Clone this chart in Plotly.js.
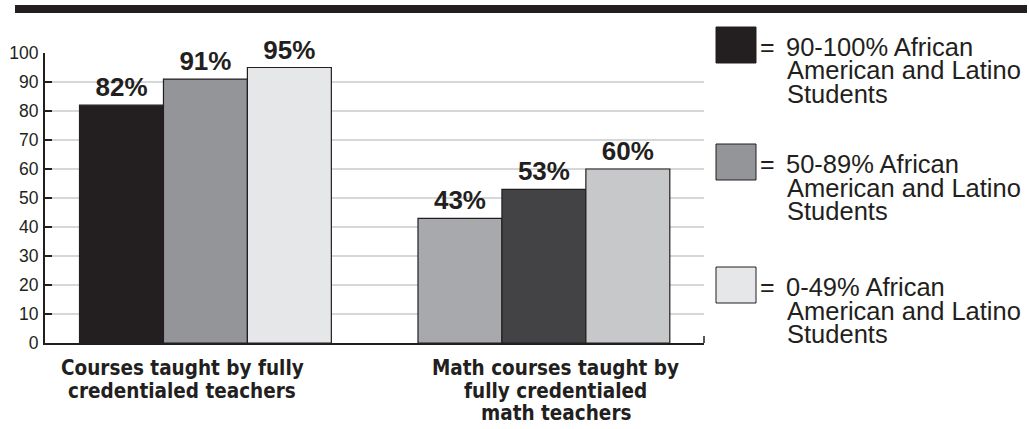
<!DOCTYPE html>
<html><head><meta charset="utf-8">
<script src="https://cdn.plot.ly/plotly-3.0.1.min.js"></script>
<style>html,body{margin:0;padding:0;background:#fff;}#chart{width:1029px;height:429px;}</style>
</head><body><div id="chart"></div>
<script>
// ---- data ----
const categoryLines = [
  ["Courses taught by fully", "credentialed teachers"],
  ["Math courses taught by", "fully credentialed", "math teachers"]
];
const categories = categoryLines.map(l => l.join(" "));
const seriesNames = [
  "90-100% African American and Latino Students",
  "50-89% African American and Latino Students",
  "0-49% African American and Latino Students"
];
const legendLines = [
  ["90-100% African", "American and Latino", "Students"],
  ["50-89% African", "American and Latino", "Students"],
  ["0-49% African", "American and Latino", "Students"]
];
const values90to100 = [82, 43];
const values50to89 = [91, 53];
const values0to49 = [95, 60];
const barColors = [
  ["#231f20", "#a7a9ac"],
  ["#939598", "#434345"],
  ["#e6e7e8", "#c7c8ca"]
];
const legendColors = ["#231f20", "#939598", "#e6e7e8"];
const yTickValues = [0, 10, 20, 30, 40, 50, 60, 70, 80, 90, 100];

// ---- layout helpers ----
const W = 1029, H = 429;
const L = 45, R = 704, T = 53, B = 343;
const px = x => (x - L) / (R - L);
const py = y => (B - y) / (B - T);
const ink = "#231f20";
const regFont = "Liberation Sans, Arial, Helvetica, sans-serif";
const narrowFont = "DejaVu Sans Condensed, Liberation Sans Narrow, Arial Narrow, sans-serif";

const seriesValues = [values90to100, values50to89, values0to49];
const traces = seriesValues.map((vals, i) => ({
  type: "bar",
  name: seriesNames[i],
  x: categories,
  y: vals,
  marker: { color: barColors[i], line: { color: ink, width: 1.2 } },
  texttemplate: "%{y}%",
  textposition: "outside",
  constraintext: "none",
  cliponaxis: false,
  textfont: { family: regFont, size: 26, weight: "bold", color: ink },
  hoverinfo: "skip"
}));

const shapes = [];
const annotations = [];

// top band
shapes.push({ type: "rect", xref: "paper", yref: "paper", x0: px(15), x1: px(1027), y0: py(13), y1: py(5), fillcolor: ink, line: { width: 0 } });
// right end tick of x axis
shapes.push({ type: "line", xref: "paper", yref: "paper", x0: 1, x1: 1, y0: 0, y1: py(336), line: { color: ink, width: 1.5 } });

// category labels
const groupShift = [-23, 12];
categoryLines.forEach((lines, i) => {
  lines.forEach((t, j) => {
    annotations.push({
      xref: "x", yref: "paper", x: categories[i], xshift: groupShift[i],
      y: py(368 + 22.5 * j), yanchor: "middle", xanchor: "center",
      text: t, showarrow: false,
      font: { family: narrowFont, size: 20.5, weight: "bold", color: ink }
    });
  });
});

// legend
const squareTops = [27, 144, 267];
legendColors.forEach((c, i) => {
  const top = squareTops[i];
  shapes.push({ type: "rect", xref: "paper", yref: "paper", x0: px(716), x1: px(756), y0: py(top + 36), y1: py(top), fillcolor: c, line: { color: ink, width: 1 } });
  const c0 = top + 20;
  annotations.push({ xref: "paper", yref: "paper", x: px(758), y: py(c0), xanchor: "left", yanchor: "middle", text: "=", showarrow: false, font: { family: regFont, size: 25, color: ink } });
  legendLines[i].forEach((t, j) => {
    annotations.push({
      xref: "paper", yref: "paper", x: px(784 + (j > 0 ? 1 : 0)), y: py(c0 + 23.5 * j),
      xanchor: "left", yanchor: "middle", text: t, showarrow: false,
      font: { family: regFont, size: 25.5, color: ink }
    });
  });
});

const layout = {
  width: W, height: H,
  margin: { l: L, r: W - R, t: T, b: H - B, pad: 0 },
  paper_bgcolor: "#ffffff", plot_bgcolor: "#ffffff",
  showlegend: false,
  barmode: "group", bargap: 0.256, bargroupgap: 0,
  xaxis: {
    type: "category", range: [-0.474, 1.473],
    showline: true, linecolor: ink, linewidth: 2,
    ticks: "", showticklabels: false, showgrid: false, zeroline: false, fixedrange: true
  },
  yaxis: {
    range: [0, 100], tickmode: "array", tickvals: yTickValues,
    ticks: "inside", ticklen: 7, tickwidth: 1.5, tickcolor: ink,
    showline: true, linecolor: ink, linewidth: 2,
    showgrid: true, gridcolor: "#d6d7d8", gridwidth: 1.5, zeroline: false,
    tickfont: { family: regFont, size: 17.5, color: ink },
    ticklabelstandoff: 1, fixedrange: true
  },
  shapes: shapes,
  annotations: annotations,
  hovermode: false
};

Plotly.newPlot("chart", traces, layout, { staticPlot: true, displayModeBar: false });
</script>
</body></html>
